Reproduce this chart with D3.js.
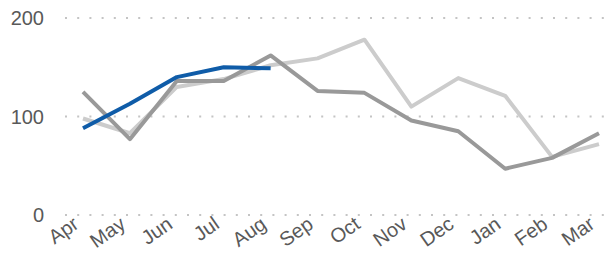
<!DOCTYPE html>
<html>
<head>
<meta charset="utf-8">
<script src="https://cdn.jsdelivr.net/npm/d3@7"></script>
<style>
  body { margin: 0; background: #fff; }
  svg text { font-family: "Liberation Sans", Arial, sans-serif; fill: #595959; }
</style>
</head>
<body>
<svg id="chart" width="604" height="254"></svg>
<script>
// months of the financial year
var months = ["Apr", "May", "Jun", "Jul", "Aug", "Sep", "Oct", "Nov", "Dec", "Jan", "Feb", "Mar"];
var yTicks = [0, 100, 200];

// values
var lightSeries = [98, 83, 130, 138, 152, 159, 178, 110, 139, 121, 59, 72];
var darkSeries = [125, 77, 136, 136, 162, 126, 124, 96, 85, 47, 58, 83];
var blueSeries = [88, 113, 140, 150, 149];

var svg = d3.select("#chart"),
    width = +svg.attr("width"),
    height = +svg.attr("height");

var x = d3.scalePoint().domain(months).range([83, 599]);
var y = d3.scaleLinear().domain([0, 200]).range([215, 18]);

// dotted gridlines
svg.append("g").selectAll("line")
    .data(yTicks)
    .enter().append("line")
    .attr("x1", 65).attr("x2", width)
    .attr("y1", function(d) { return y(d); })
    .attr("y2", function(d) { return y(d); })
    .attr("stroke", "#c4c4c4")
    .attr("stroke-width", 2)
    .attr("stroke-dasharray", "2,10.2");

// y labels
svg.append("g").selectAll("text")
    .data(yTicks)
    .enter().append("text")
    .attr("x", 44)
    .attr("y", function(d) { return y(d) + 7; })
    .attr("text-anchor", "end")
    .style("font-size", "20px")
    .text(function(d) { return d; });

// x labels, rotated
svg.append("g").selectAll("text")
    .data(months)
    .enter().append("text")
    .attr("text-anchor", "end")
    .style("font-size", "20px")
    .attr("transform", function(d) { return "translate(" + (x(d) - 3) + ",227) rotate(-35)"; })
    .text(function(d) { return d; });

var line = d3.line()
    .x(function(d, i) { return x(months[i]); })
    .y(function(d) { return y(d); });

var series = [
    { values: lightSeries, color: "#cccccc" },
    { values: darkSeries, color: "#999999" },
    { values: blueSeries, color: "#0f5ca8" }
];

series.forEach(function(s) {
    svg.append("path")
        .attr("d", line(s.values))
        .attr("fill", "none")
        .attr("stroke", s.color)
        .attr("stroke-width", 4)
        .attr("stroke-linejoin", "round");
});
</script>
</body>
</html>
